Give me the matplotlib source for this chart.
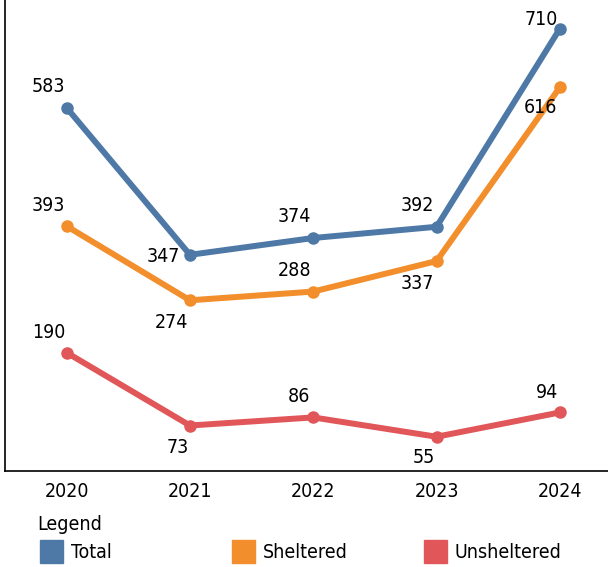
import matplotlib.pyplot as plt
from matplotlib.patches import Rectangle

years = ["2020", "2021", "2022", "2023", "2024"]
total = [583, 347, 374, 392, 710]
sheltered = [393, 274, 288, 337, 616]
unsheltered = [190, 73, 86, 55, 94]

series_names = ["Total", "Sheltered", "Unsheltered"]
colors = ["#4E79A7", "#F28E2B", "#E15759"]

# label offsets in pixels (dx, dy) relative to each point
offsets = [
    [(-18, 21), (-27, -2), (-19, 21), (-19, 21), (-19, 9)],
    [(-18, 21), (-19, -22), (-19, 21), (-19, -22), (-19, -20)],
    [(-18, 20), (-12, -22), (-14, 21), (-13, -21), (-13, 20)],
]

plt.rcParams["font.family"] = ["DejaVu Sans"]
plt.rcParams["font.stretch"] = "condensed"

fig = plt.figure(figsize=(6.08, 5.67), dpi=100)
ax = fig.add_axes([5 / 608, 96 / 567, 603 / 608, 471 / 567])

x = range(len(years))
for vals, col, offs in zip([total, sheltered, unsheltered], colors, offsets):
    ax.plot(x, vals, color=col, lw=4.3, marker="o", ms=8, solid_capstyle="round")
    for xi, v, (dx, dy) in zip(x, vals, offs):
        ax.annotate(str(v), (xi, v), xytext=(dx, dy), textcoords="offset pixels",
                    ha="center", va="center", fontsize=14, color="black")

ax.set_xlim(-0.5, 4.39)
ax.set_ylim(0, 756)
ax.set_xticks(list(x))
ax.set_xticklabels(years, fontsize=14)
ax.tick_params(axis="x", length=0, pad=8)
ax.set_yticks([])
ax.spines["top"].set_visible(False)
ax.spines["right"].set_visible(False)
ax.spines["left"].set_linewidth(1.2)
ax.spines["bottom"].set_linewidth(1.2)

# legend
fig.text(37 / 608, 1 - 525 / 567, "Legend", fontsize=14, ha="left", va="center")
patch_x = [40, 232, 424]
for px, name, col in zip(patch_x, series_names, colors):
    fig.add_artist(Rectangle((px / 608, 1 - 563 / 567), 23 / 608, 23 / 567,
                             transform=fig.transFigure, color=col))
    fig.text((px + 31) / 608, 1 - 552 / 567, name, fontsize=14, ha="left", va="center")

fig.savefig("out.png", dpi=100)
